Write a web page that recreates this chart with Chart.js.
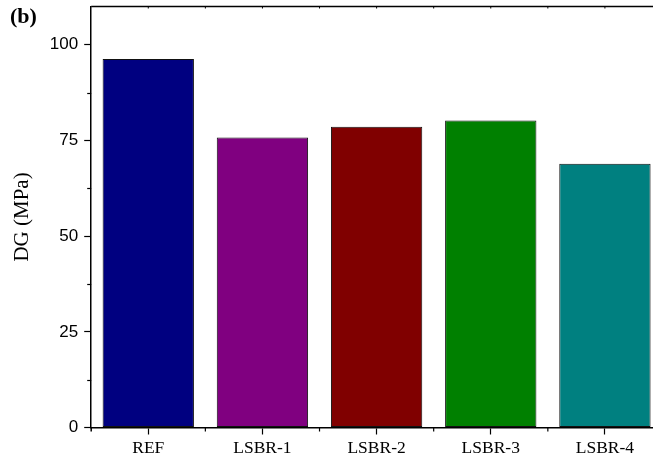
<!DOCTYPE html>
<html>
<head>
<meta charset="utf-8">
<script src="https://cdn.jsdelivr.net/npm/chart.js@4/dist/chart.umd.min.js"></script>
<style>
  html, body { margin: 0; padding: 0; background: #fff; overflow: hidden; }
  #wrap { width: 653px; height: 466px; overflow: hidden; position: relative; }
  canvas { position: absolute; left: 0; top: 0; }
</style>
</head>
<body>
<div id="wrap"><canvas id="c" width="680" height="466"></canvas></div>
<script>
// Samples and their DG values (MPa)
const categories = ['REF', 'LSBR-1', 'LSBR-2', 'LSBR-3', 'LSBR-4'];
const dgValues = [96.3, 75.8, 78.6, 80.2, 68.9];
const barColors = ['#000080', '#800080', '#800000', '#008000', '#008080'];
const yTicks = [0, 25, 50, 75, 100];

const SERIF = '"Liberation Serif", "Times New Roman", serif';
const SANS = '"Liberation Sans", Arial, sans-serif';

// Frame line on top, minor ticks and the panel label
const decorations = {
  id: 'decorations',
  afterDraw(chart) {
    const ctx = chart.ctx;
    const a = chart.chartArea;
    const x = chart.scales.x;
    const y = chart.scales.y;
    ctx.save();
    ctx.strokeStyle = '#000';

    // top frame line
    ctx.lineWidth = 1.5;
    ctx.beginPath();
    ctx.moveTo(a.left, a.top);
    ctx.lineTo(a.right, a.top);
    ctx.stroke();

    // y axis extends a little below the x axis
    ctx.beginPath();
    ctx.moveTo(a.left, a.bottom);
    ctx.lineTo(a.left, a.bottom + 4);
    ctx.stroke();

    // minor y ticks halfway between labelled ticks
    ctx.lineWidth = 1.2;
    for (let i = 0; i < yTicks.length - 1; i++) {
      const py = Math.round(y.getPixelForValue((yTicks[i] + yTicks[i + 1]) / 2)) + 0.5;
      ctx.beginPath();
      ctx.moveTo(a.left, py);
      ctx.lineTo(a.left - 4, py);
      ctx.stroke();
    }

    // minor x ticks on category boundaries, small ticks on top frame
    const step = x.getPixelForValue(1) - x.getPixelForValue(0);
    for (let i = 0; i <= categories.length; i++) {
      const bx = x.getPixelForValue(i) - step / 2;
      if (i > 0 && i < categories.length + 1) {
        ctx.beginPath();
        ctx.moveTo(bx, a.bottom);
        ctx.lineTo(bx, a.bottom + 4);
        ctx.stroke();
      }
      if (i > 0) {
        ctx.lineWidth = 1;
        ctx.beginPath();
        ctx.moveTo(bx, a.top);
        ctx.lineTo(bx, a.top + 2);
        ctx.stroke();
      }
      if (i < categories.length) {
        const cx = x.getPixelForValue(i);
        ctx.lineWidth = 1;
        ctx.beginPath();
        ctx.moveTo(cx, a.top);
        ctx.lineTo(cx, a.top + 2);
        ctx.stroke();
      }
      ctx.lineWidth = 1.2;
    }

    // panel label
    ctx.fillStyle = '#000';
    ctx.font = 'bold 22px ' + SERIF;
    ctx.textAlign = 'left';
    ctx.textBaseline = 'alphabetic';
    ctx.fillText('(b)', 10, 23);
    ctx.restore();
  }
};

new Chart(document.getElementById('c'), {
  type: 'bar',
  data: {
    labels: categories,
    datasets: [{
      data: dgValues,
      backgroundColor: barColors,
      borderColor: '#111',
      borderWidth: 1,
      borderSkipped: false,
      categoryPercentage: 1.0,
      barPercentage: 0.8
    }]
  },
  options: {
    responsive: false,
    animation: false,
    devicePixelRatio: 1,
    layout: { padding: { top: 6.5, left: 0, right: 18, bottom: 0 } },
    plugins: { legend: { display: false }, tooltip: { enabled: false } },
    scales: {
      x: {
        offset: true,
        border: { display: true, color: '#000', width: 1.5 },
        grid: {
          offset: false,
          drawOnChartArea: false,
          drawTicks: true,
          tickLength: 7,
          tickColor: '#000',
          tickWidth: 1.2
        },
        ticks: {
          color: '#000',
          font: { family: SERIF, size: 17.5 },
          padding: 3,
          maxRotation: 0
        },
        afterFit(s) {
          s.height = 38.5;
          s.paddingLeft = 0;
          s.paddingRight = 0;
        }
      },
      y: {
        min: 0,
        max: 110,
        border: { display: true, color: '#000', width: 1.5 },
        grid: {
          drawOnChartArea: false,
          drawTicks: true,
          tickLength: 7,
          tickColor: '#000',
          tickWidth: 1.2
        },
        ticks: {
          stepSize: 25,
          color: '#000',
          font: { family: SANS, size: 17 },
          padding: 6
        },
        afterBuildTicks(s) {
          s.ticks = yTicks.map(v => ({ value: v }));
        },
        title: {
          display: true,
          text: 'DG (MPa)',
          color: '#000',
          font: { family: SERIF, size: 21 },
          padding: { top: 10, bottom: 0 }
        },
        afterFit(s) {
          s.width = 91.2;
          s.paddingTop = 0;
          s.paddingBottom = 0;
        }
      }
    }
  },
  plugins: [decorations]
});
</script>
</body>
</html>
